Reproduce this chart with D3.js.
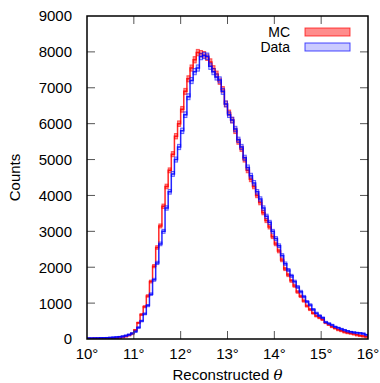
<!DOCTYPE html>
<html>
<head>
<meta charset="utf-8">
<script src="https://cdn.jsdelivr.net/npm/d3@7"></script>
<style>
  body { margin: 0; background: #fff; }
  text { font-family: "Liberation Sans", Arial, sans-serif; }
</style>
</head>
<body>
<svg id="chart"></svg>
<script>
// histogram range (degrees) and counts per bin
const thetaRange = [10, 16];
const yTicks = [0, 1000, 2000, 3000, 4000, 5000, 6000, 7000, 8000, 9000];
const xTicks = [10, 11, 12, 13, 14, 15, 16];

const mcCounts = [
  15, 15, 18, 18, 20, 22, 25, 28, 32, 38,
  50, 65, 85, 115, 150, 250, 450, 680, 900, 1200,
  1600, 2030, 2550, 3150, 3700, 4250, 4700, 5150, 5650, 6000,
  6400, 6900, 7250, 7550, 7780, 7980, 7950, 7920, 7850, 7720,
  7530, 7380, 7180, 6950, 6550, 6300, 6100, 5800, 5500, 5300,
  5000, 4700, 4450, 4250, 4000, 3800, 3520, 3300, 3120, 2850,
  2650, 2450, 2200, 1950, 1780, 1620, 1480, 1310, 1190, 1060,
  920, 820, 720, 640, 590, 540, 450, 400, 340, 300,
  255, 230, 195, 175, 160, 140, 115, 100, 85, 70
];

const dataCounts = [
  25, 25, 28, 30, 32, 35, 38, 42, 48, 55,
  65, 80, 100, 125, 160, 210, 320, 500, 700, 930,
  1250, 1650, 2120, 2650, 3000, 3650, 4100, 4600, 5000, 5350,
  5800, 6250, 6750, 7200, 7450, 7550, 7870, 7900, 7880, 7600,
  7450, 7300, 7220, 6900, 6550, 6250, 6100, 5850, 5550, 5350,
  5050, 4780, 4550, 4350, 4100, 3900, 3650, 3420, 3250, 3000,
  2800, 2600, 2330, 2100, 1920, 1760, 1600, 1450, 1320, 1180,
  1040, 950, 820, 720, 650, 590, 470, 430, 390, 340,
  310, 280, 250, 220, 200, 185, 175, 165, 155, 120
];

const series = [
  { name: "MC", counts: mcCounts, line: "#ff0000", fill: "#ff0000" },
  { name: "Data", counts: dataCounts, line: "#0000ff", fill: "#8c8cff" }
];

// dimensions
const width = 380;
const height = 383;
const plot = { left: 87, right: 368, top: 16, bottom: 339 };

const svg = d3.select("#chart")
  .attr("width", width)
  .attr("height", height);

const x = d3.scaleLinear().domain(thetaRange).range([plot.left, plot.right]);
const y = d3.scaleLinear().domain([0, 9000]).range([plot.bottom, plot.top]);

svg.append("clipPath").attr("id", "clip")
  .append("rect")
  .attr("x", plot.left).attr("y", plot.top)
  .attr("width", plot.right - plot.left).attr("height", plot.bottom - plot.top);

const g = svg.append("g").attr("clip-path", "url(#clip)");

series.forEach(s => {
  const n = s.counts.length;
  const bw = (thetaRange[1] - thetaRange[0]) / n;
  const bins = s.counts.map((c, i) => ({
    x0: thetaRange[0] + i * bw,
    x1: thetaRange[0] + (i + 1) * bw,
    c: c,
    e: Math.sqrt(c)
  }));

  // error boxes
  g.append("g")
    .selectAll("rect")
    .data(bins)
    .join("rect")
    .attr("x", d => x(d.x0))
    .attr("width", d => x(d.x1) - x(d.x0))
    .attr("y", d => y(d.c + d.e))
    .attr("height", d => Math.max(1.5, y(d.c - d.e) - y(d.c + d.e)))
    .attr("fill", s.fill)
    .attr("fill-opacity", 0.45)
    .attr("stroke", s.line)
    .attr("stroke-opacity", 0.6)
    .attr("stroke-width", 1);

  // step outline
  const pts = [];
  bins.forEach(d => { pts.push([d.x0, d.c]); pts.push([d.x1, d.c]); });
  g.append("path")
    .datum(pts)
    .attr("fill", "none")
    .attr("stroke", s.line)
    .attr("stroke-width", 1.5)
    .attr("stroke-opacity", 0.85)
    .attr("d", d3.line().x(d => x(d[0])).y(d => y(d[1])));
});

// inward ticks on all four sides
const tickLen = 8;
const ticks = svg.append("g").attr("stroke", "#555").attr("stroke-width", 1);
yTicks.slice(1, -1).forEach(v => {
  ticks.append("line").attr("x1", plot.left).attr("x2", plot.left + tickLen).attr("y1", y(v)).attr("y2", y(v));
  ticks.append("line").attr("x1", plot.right).attr("x2", plot.right - tickLen).attr("y1", y(v)).attr("y2", y(v));
});
xTicks.slice(1, -1).forEach(v => {
  ticks.append("line").attr("x1", x(v)).attr("x2", x(v)).attr("y1", plot.bottom).attr("y2", plot.bottom - tickLen);
  ticks.append("line").attr("x1", x(v)).attr("x2", x(v)).attr("y1", plot.top).attr("y2", plot.top + tickLen);
});

// frame
svg.append("rect")
  .attr("x", plot.left).attr("y", plot.top)
  .attr("width", plot.right - plot.left).attr("height", plot.bottom - plot.top)
  .attr("fill", "none").attr("stroke", "#000").attr("stroke-width", 1.5);

// tick labels
svg.append("g")
  .selectAll("text")
  .data(yTicks)
  .join("text")
  .attr("x", plot.left - 15)
  .attr("y", d => y(d))
  .attr("dy", "0.36em")
  .attr("text-anchor", "end")
  .style("font-size", "15px")
  .text(d => d);

svg.append("g")
  .selectAll("text")
  .data(xTicks)
  .join("text")
  .attr("x", d => x(d))
  .attr("y", plot.bottom + 20)
  .attr("text-anchor", "middle")
  .style("font-size", "15px")
  .text(d => d + "°");

// axis titles
svg.append("text")
  .attr("transform", `translate(20,${(plot.top + plot.bottom) / 2})rotate(-90)`)
  .attr("text-anchor", "middle")
  .style("font-size", "15px")
  .text("Counts");

const xt = svg.append("text")
  .attr("x", (plot.left + plot.right) / 2)
  .attr("y", 380)
  .attr("text-anchor", "middle")
  .style("font-size", "15px");
xt.append("tspan").text("Reconstructed ");
xt.append("tspan").style("font-style", "italic").style("font-family", "'DejaVu Serif', serif").text("θ");

// legend
const legend = svg.append("g");
series.forEach((s, i) => {
  const ly = 32 + i * 15;
  legend.append("text")
    .attr("x", 290)
    .attr("y", ly)
    .attr("dy", "0.36em")
    .attr("text-anchor", "end")
    .style("font-size", "14px")
    .text(s.name);
  legend.append("rect")
    .attr("x", 305).attr("y", ly - 4)
    .attr("width", 45).attr("height", 8)
    .attr("fill", s.fill).attr("fill-opacity", 0.45)
    .attr("stroke", s.line).attr("stroke-opacity", 0.7);
});
</script>
</body>
</html>
